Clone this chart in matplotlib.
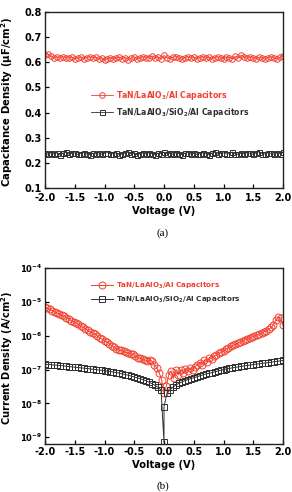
import numpy as np
import matplotlib
matplotlib.use("Agg")
import matplotlib.pyplot as plt
from matplotlib.ticker import FixedLocator, NullLocator, LogFormatterSciNotation

plt.rcParams['font.family'] = ['DejaVu Sans']
plt.rcParams['font.weight'] = 'bold'
plt.rcParams['mathtext.fontset'] = 'custom'
plt.rcParams['mathtext.rm'] = 'DejaVu Sans:bold'
plt.rcParams['mathtext.it'] = 'DejaVu Sans:bold'
plt.rcParams['mathtext.bf'] = 'DejaVu Sans:bold'
plt.rcParams['mathtext.default'] = 'rm'

RED = '#f2402f'
BLK = '#303030'

label_la = r'TaN/LaAlO$_3$/Al Capacitors'
label_si = r'TaN/LaAlO$_3$/SiO$_2$/Al Capacitors'

# ---- (a) capacitance density ----
v_cap = np.round(np.arange(-2.0, 2.0001, 0.05), 2)
cap_la = [0.628, 0.632, 0.624, 0.618, 0.621, 0.617, 0.622, 0.619, 0.616, 0.620,
          0.614, 0.618, 0.621, 0.615, 0.619, 0.622, 0.617, 0.620, 0.612, 0.616,
          0.609, 0.614, 0.618, 0.613, 0.617, 0.620, 0.615, 0.619, 0.611, 0.616,
          0.621, 0.613, 0.618, 0.622, 0.616, 0.619, 0.625, 0.617, 0.621, 0.613,
          0.627, 0.618, 0.614, 0.620, 0.623, 0.616, 0.612, 0.619, 0.622, 0.617,
          0.620, 0.615, 0.618, 0.623, 0.616, 0.620, 0.614, 0.618, 0.622, 0.617,
          0.615, 0.621, 0.619, 0.613, 0.624, 0.618, 0.628, 0.620, 0.616, 0.622,
          0.618, 0.614, 0.620, 0.617, 0.612, 0.619, 0.622, 0.616, 0.613, 0.620,
          0.624]
cap_si = [0.238, 0.234, 0.241, 0.236, 0.240, 0.233, 0.239, 0.242, 0.235, 0.238,
          0.240, 0.234, 0.237, 0.241, 0.236, 0.233, 0.239, 0.236, 0.240, 0.234,
          0.238, 0.241, 0.235, 0.237, 0.240, 0.233, 0.236, 0.239, 0.242, 0.235,
          0.238, 0.232, 0.237, 0.240, 0.235, 0.241, 0.236, 0.233, 0.239, 0.237,
          0.242, 0.236, 0.238, 0.234, 0.240, 0.237, 0.233, 0.239, 0.241, 0.235,
          0.238, 0.234, 0.237, 0.240, 0.236, 0.233, 0.239, 0.242, 0.235, 0.238,
          0.240, 0.235, 0.237, 0.243, 0.236, 0.234, 0.239, 0.236, 0.241, 0.238,
          0.234, 0.240, 0.244, 0.237, 0.235, 0.241, 0.238, 0.234, 0.240, 0.236,
          0.243]

# ---- (b) current density ----
v_j_la = np.round(np.arange(-2.0, 2.0001, 0.04), 2)
j_la = [7.1e-6, 6.5e-6, 6.0e-6, 5.5e-6, 5.1e-6, 4.7e-6, 4.4e-6, 4.0e-6, 3.7e-6, 3.4e-6,
        3.2e-6, 2.8e-6, 2.6e-6, 2.4e-6, 2.15e-6, 1.95e-6, 1.75e-6, 1.6e-6, 1.45e-6, 1.3e-6,
        1.2e-6, 1.1e-6, 9.8e-7, 8.7e-7, 7.9e-7, 7.1e-7, 6.5e-7, 5.8e-7, 5.1e-7, 4.5e-7,
        4.0e-7, 3.8e-7, 3.7e-7, 3.5e-7, 3.2e-7, 3.1e-7, 2.9e-7, 2.8e-7, 2.5e-7, 2.2e-7,
        2.2e-7, 2.0e-7, 1.9e-7, 1.75e-7, 1.9e-7, 1.75e-7, 1.4e-7, 1.1e-7, 8e-8, 5e-8,
        2e-8, 3.2e-8, 7e-8, 9e-8, 5.5e-8, 1e-7, 7e-8, 1e-7, 8e-8, 1.05e-7,
        9e-8, 1.1e-7, 1e-7, 1.2e-7, 1.4e-7, 1.6e-7, 1.4e-7, 1.9e-7, 1.65e-7, 2.2e-7,
        2.1e-7, 2.5e-7, 2.7e-7, 3.0e-7, 3.3e-7, 3.6e-7, 4.0e-7, 4.4e-7, 4.8e-7, 5.2e-7,
        5.6e-7, 6.1e-7, 6.6e-7, 7.1e-7, 7.6e-7, 8.1e-7, 8.6e-7, 9.2e-7, 9.8e-7, 1.05e-6,
        1.12e-6, 1.2e-6, 1.3e-6, 1.4e-6, 1.55e-6, 1.75e-6, 2.1e-6, 2.9e-6, 3.5e-6, 3.4e-6,
        2.0e-6]

v_j_si = [-2.0, -1.95, -1.9, -1.85, -1.8, -1.75, -1.7, -1.65, -1.6, -1.55,
          -1.5, -1.45, -1.4, -1.35, -1.3, -1.25, -1.2, -1.15, -1.1, -1.05,
          -1.0, -0.95, -0.9, -0.85, -0.8, -0.75, -0.7, -0.65, -0.6, -0.55,
          -0.5, -0.45, -0.4, -0.35, -0.3, -0.25, -0.2, -0.15, -0.1, -0.05,
          0.0, 0.0,
          0.05, 0.1, 0.15, 0.2, 0.25, 0.3, 0.35, 0.4, 0.45, 0.5,
          0.55, 0.6, 0.65, 0.7, 0.75, 0.8, 0.85, 0.9, 0.95, 1.0,
          1.05, 1.1, 1.15, 1.2, 1.25, 1.3, 1.35, 1.4, 1.45, 1.5,
          1.55, 1.6, 1.65, 1.7, 1.75, 1.8, 1.85, 1.9, 1.95, 2.0]
j_si = [1.45e-7, 1.4e-7, 1.4e-7, 1.35e-7, 1.35e-7, 1.3e-7, 1.3e-7, 1.25e-7, 1.22e-7, 1.2e-7,
        1.17e-7, 1.15e-7, 1.12e-7, 1.1e-7, 1.07e-7, 1.05e-7, 1.02e-7, 1.0e-7, 9.7e-8, 9.5e-8,
        9.2e-8, 9.0e-8, 8.7e-8, 8.4e-8, 8.1e-8, 7.8e-8, 7.4e-8, 7.1e-8, 6.8e-8, 6.4e-8,
        6.0e-8, 5.7e-8, 5.3e-8, 5.0e-8, 4.6e-8, 4.2e-8, 3.8e-8, 3.4e-8, 3.0e-8, 2.5e-8,
        7e-10, 8e-9,
        2.0e-8, 2.5e-8, 3.0e-8, 3.5e-8, 3.9e-8, 4.3e-8, 4.7e-8, 5.0e-8, 5.4e-8, 5.7e-8,
        6.1e-8, 6.5e-8, 6.9e-8, 7.3e-8, 7.7e-8, 8.1e-8, 8.5e-8, 9.0e-8, 9.5e-8, 1.0e-7,
        1.04e-7, 1.08e-7, 1.12e-7, 1.16e-7, 1.2e-7, 1.24e-7, 1.28e-7, 1.32e-7, 1.36e-7, 1.4e-7,
        1.44e-7, 1.48e-7, 1.52e-7, 1.56e-7, 1.6e-7, 1.65e-7, 1.7e-7, 1.75e-7, 1.8e-7, 1.85e-7]

x_ticks = [-2.0, -1.5, -1.0, -0.5, 0.0, 0.5, 1.0, 1.5, 2.0]
cap_ticks = [0.1, 0.2, 0.3, 0.4, 0.5, 0.6, 0.7, 0.8]
j_ticks = [1e-9, 1e-8, 1e-7, 1e-6, 1e-5, 1e-4]

W, H = 292, 492
fig = plt.figure(figsize=(W / 100, H / 100), dpi=100)

def fr(l, t, r, b):
    return [l / W, 1 - b / H, (r - l) / W, (b - t) / H]

ax1 = fig.add_axes(fr(45, 12, 283, 188))
ax2 = fig.add_axes(fr(45, 268, 283, 444))

for ax, xpad in ((ax1, 3.5), (ax2, 2.0)):
    for s in ax.spines.values():
        s.set_linewidth(1.0)
        s.set_color('#222222')
    ax.tick_params(direction='in', length=3, width=0.9, labelsize=7,
                   top=False, right=False)
    ax.tick_params(axis='x', pad=xpad)
    ax.tick_params(axis='y', pad=2.5)
    ax.set_xlim(-2.0, 2.0)
    ax.xaxis.set_major_locator(FixedLocator(x_ticks))
    ax.set_xticklabels([f'{t:.1f}' for t in x_ticks], fontweight='bold')
    ax.set_xlabel('Voltage (V)', fontsize=7.2, fontweight='bold', labelpad=2.5)

# (a)
ax1.plot(v_cap, cap_la, '-o', color=RED, lw=0.6, ms=4.0, mfc='none', mew=0.7,
         label=label_la)
ax1.plot(v_cap, cap_si, '-s', color=BLK, lw=0.6, ms=3.6, mfc='none', mew=0.7,
         label=label_si)
ax1.set_ylim(0.1, 0.8)
ax1.yaxis.set_major_locator(FixedLocator(cap_ticks))
ax1.set_yticklabels([f'{t:.1f}' for t in cap_ticks], fontweight='bold')
ax1.set_ylabel('Capacitance Density (μF/cm$^2$)', fontsize=7.3, fontweight='bold')
ax1.yaxis.set_label_coords((15 - 45) / 238, 0.49)
leg1 = ax1.legend(loc='upper left', bbox_to_anchor=(0.195, 0.565), frameon=False,
                  fontsize=5.6, handlelength=2.8, handletextpad=0.35,
                  labelspacing=0.55, borderpad=0, borderaxespad=0,
                  labelcolor=[RED, BLK])

# (b)
ax2.set_yscale('log')
ax2.plot(v_j_la, j_la, '-o', color=RED, lw=0.7, ms=5.0, mfc='none', mew=0.7,
         label=label_la)
ax2.plot(v_j_si, j_si, '-s', color=BLK, lw=0.7, ms=4.0, mfc='none', mew=0.7,
         label=label_si)
ax2.set_ylim(6.3e-10, 1e-4)
ax2.yaxis.set_major_locator(FixedLocator(j_ticks))
ax2.yaxis.set_major_formatter(LogFormatterSciNotation())
ax2.yaxis.set_minor_locator(NullLocator())
ax2.tick_params(axis='y', labelsize=6.0, pad=2.0)
ax2.set_ylabel('Current Density (A/cm$^2$)', fontsize=7.1, fontweight='bold')
ax2.yaxis.set_label_coords((15 - 45) / 238, 0.49)
leg2 = ax2.legend(loc='upper left', bbox_to_anchor=(0.195, 0.93), frameon=False,
                  fontsize=5.2, handlelength=3.0, handletextpad=0.35,
                  labelspacing=0.6, borderpad=0, borderaxespad=0,
                  labelcolor=[RED, BLK])

fig.text(163 / W, 1 - 233 / H, '(a)', ha='center', va='center', fontsize=8,
         family='Liberation Serif', fontweight='normal')
fig.text(163 / W, 1 - 486 / H, '(b)', ha='center', va='center', fontsize=8,
         family='Liberation Serif', fontweight='normal')

fig.savefig('out.png', dpi=100)
